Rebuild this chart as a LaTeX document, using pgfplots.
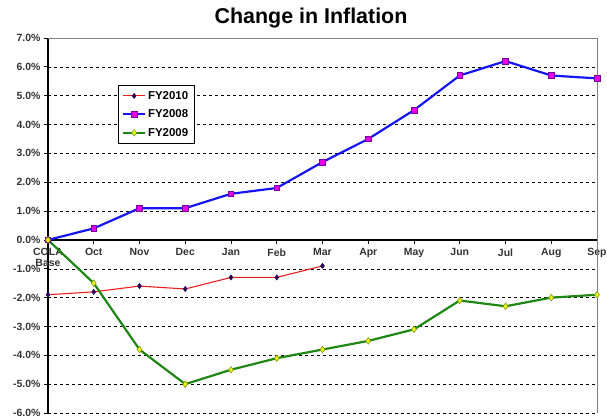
\documentclass[border=0pt]{standalone}
\usepackage{fontspec}
\setmainfont{Liberation Sans}
\usepackage{pgfplots}
\pgfplotsset{compat=1.18}
\definecolor{cblue}{RGB}{20,20,245}
\definecolor{cmag}{RGB}{230,0,230}
\definecolor{cpurp}{RGB}{120,0,160}
\definecolor{cred}{RGB}{235,30,30}
\definecolor{cnavy}{RGB}{40,0,90}
\definecolor{cgreen}{RGB}{30,135,20}
\definecolor{cyel}{RGB}{230,245,30}
\definecolor{colive}{RGB}{130,140,0}
\begin{document}
\begin{tikzpicture}[x=1bp,y=1bp]
\useasboundingbox (0,0) rectangle (607,415);
\node[font=\bfseries\fontsize{21.5}{24}\selectfont] at (311,397) {Change in Inflation};
\begin{axis}[
  at={(48bp,2bp)}, anchor=south west,
  scale only axis, width=549bp, height=375bp,
  xmin=0, xmax=12, ymin=-6, ymax=7,
  axis x line=middle, axis y line=left,
  axis line style={-, black, line width=1.6pt},
  every inner x axis line/.append style={-},
  every outer y axis line/.append style={-},
  hide obscured x ticks=false, hide obscured y ticks=false,
  xtick={0,...,12},
  xticklabels={{COLA\\Base},Oct,Nov,Dec,Jan,Feb,Mar,Apr,May,Jun,Jul,Aug,Sep},
  xticklabel style={align=center, font=\bfseries\fontsize{10.5}{11}\selectfont, text=black!80, yshift=-1bp},
  ytick={-6,...,7},
  yticklabel={\pgfmathprintnumber[fixed,fixed zerofill,precision=1,assume math mode=true]{\tick}\%},
  yticklabel style={font=\bfseries\fontsize{10.5}{12}\selectfont, text=black!80},
  tick align=outside, major tick length=4bp,
  tick style={black, line width=0.8pt},
  ymajorgrids, grid style={black, dashed, line width=0.5pt},
  clip=false,
  legend style={at={(0.1275,0.875)}, anchor=north west, draw=black, line width=0.6pt,
    font=\bfseries\fontsize{11.5}{13}\selectfont, row sep=5pt, inner sep=4pt},
  legend cell align=left,
  legend image code/.code={\draw[mark repeat=2,mark phase=2] plot coordinates {(0cm,0cm) (0.38cm,0cm) (0.76cm,0cm)};},
]
\addplot[cred, line width=1.1pt, mark=diamond*, mark size=2.6pt, mark options={fill=cnavy, draw=cnavy, line width=0.5pt}]
  coordinates {(0,-1.9) (1,-1.8) (2,-1.6) (3,-1.7) (4,-1.3) (5,-1.3) (6,-0.9)};
\addlegendentry{FY2010}
\addplot[cblue, line width=2.2pt, mark=square*, mark size=2.8pt, mark options={fill=cmag, draw=cpurp, line width=0.6pt}]
  coordinates {(0,0) (1,0.4) (2,1.1) (3,1.1) (4,1.6) (5,1.8) (6,2.7) (7,3.5) (8,4.5) (9,5.7) (10,6.2) (11,5.7) (12,5.6)};
\addlegendentry{FY2008}
\addplot[cgreen, line width=2.2pt, mark=diamond*, mark size=3.3pt, mark options={fill=cyel, draw=colive, line width=0.5pt}]
  coordinates {(0,0) (1,-1.5) (2,-3.8) (3,-5.0) (4,-4.5) (5,-4.1) (6,-3.8) (7,-3.5) (8,-3.1) (9,-2.1) (10,-2.3) (11,-2.0) (12,-1.9)};
\addlegendentry{FY2009}
\draw[gray, line width=0.8pt] (rel axis cs:0,1) -- (rel axis cs:1,1) -- (rel axis cs:1,0);
\end{axis}
\end{tikzpicture}
\end{document}
